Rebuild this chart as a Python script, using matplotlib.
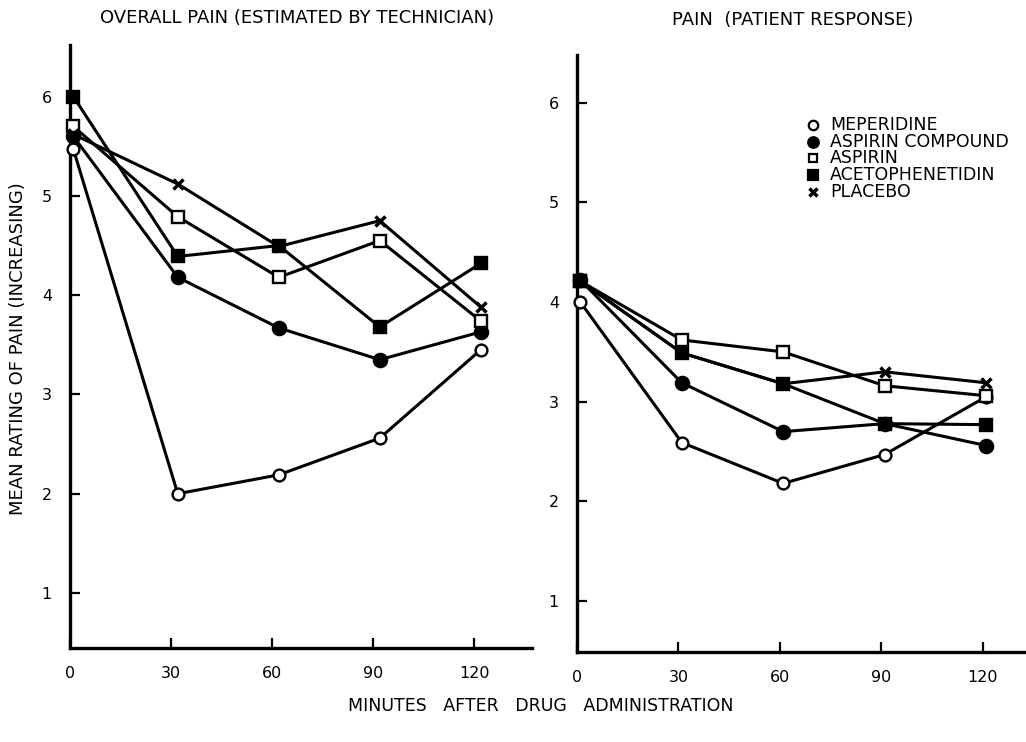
import matplotlib
matplotlib.use("Agg")
import matplotlib.pyplot as plt
from matplotlib.lines import Line2D

# ---------------- data ----------------
drugs = ["MEPERIDINE", "ASPIRIN COMPOUND", "ASPIRIN", "ACETOPHENETIDIN", "PLACEBO"]
x_ticks = [0, 30, 60, 90, 120]
x_ticklabels = ["0", "30", "60", "90", "120"]
y_ticks = [1, 2, 3, 4, 5, 6]

# left panel: overall pain (estimated by technician)
t_left = [1, 32, 62, 92, 122]
left_meperidine = [5.47, 2.00, 2.19, 2.56, 3.45]
left_asp_comp = [5.60, 4.18, 3.67, 3.35, 3.63]
left_aspirin = [5.70, 4.79, 4.18, 4.55, 3.74]
left_aceto = [6.00, 4.39, 4.50, 3.68, 4.32]
left_placebo = [5.62, 5.12, 4.49, 4.75, 3.88]

# right panel: pain (patient response)
t_right = [1, 31, 61, 91, 121]
right_meperidine = [4.00, 2.59, 2.18, 2.47, 3.05]
right_asp_comp = [4.22, 3.19, 2.70, 2.78, 2.56]
right_aspirin = [4.21, 3.62, 3.50, 3.16, 3.06]
right_aceto = [4.21, 3.49, 3.18, 2.78, 2.77]
right_placebo = [4.21, 3.49, 3.18, 3.30, 3.19]

left_series = [left_meperidine, left_asp_comp, left_aspirin, left_aceto, left_placebo]
right_series = [right_meperidine, right_asp_comp, right_aspirin, right_aceto, right_placebo]

styles = [
    dict(marker="o", mfc="white", ms=8.5),
    dict(marker="o", mfc="black", ms=9.5),
    dict(marker="s", mfc="white", ms=8),
    dict(marker="s", mfc="black", ms=9),
    dict(marker="x", mfc="black", ms=7, mew=2.5),
]

plt.rcParams["font.family"] = ["DejaVu Sans"]

fig = plt.figure(figsize=(10.26, 7.42), dpi=100)
axL = fig.add_axes([70 / 1026, 1 - 648 / 742, (532 - 70) / 1026, (648 - 45) / 742])
axR = fig.add_axes([577 / 1026, 1 - 652 / 742, (1025 - 577) / 1026, (652 - 55) / 742])


def draw(ax, t, series, ylim, xmax):
    for vals, st in zip(series, styles):
        kw = dict(color="black", lw=2.2, mec="black", mew=1.7)
        kw.update(st)
        ax.plot(t, vals, **kw, zorder=3, clip_on=False)
    ax.set_xlim(0, xmax)
    ax.set_ylim(*ylim)
    for s in ["top", "right"]:
        ax.spines[s].set_visible(False)
    for s in ["left", "bottom"]:
        ax.spines[s].set_linewidth(2.4)
    ax.set_xticks(x_ticks)
    ax.set_xticklabels(x_ticklabels)
    ax.set_yticks(y_ticks)
    ax.set_yticklabels([str(v) for v in y_ticks])
    ax.tick_params(axis="both", direction="in", length=7, width=1.6, labelsize=11.5)
    ax.tick_params(axis="x", pad=13)
    ax.tick_params(axis="y", pad=13)


draw(axL, t_left, left_series, (0.446, 6.52), 137.2)
draw(axR, t_right, right_series, (0.488, 6.48), 132.5)

fig.text(297 / 1026, 1 - 18 / 742, "OVERALL PAIN (ESTIMATED BY TECHNICIAN)",
         ha="center", va="center", fontsize=13)
fig.text(793 / 1026, 1 - 20 / 742, "PAIN  (PATIENT RESPONSE)",
         ha="center", va="center", fontsize=13)
fig.text(18 / 1026, 1 - 349 / 742, "MEAN RATING OF PAIN (INCREASING)",
         ha="center", va="center", rotation=90, fontsize=13)
fig.text(541 / 1026, 1 - 706 / 742, "MINUTES   AFTER   DRUG   ADMINISTRATION",
         ha="center", va="center", fontsize=12.5)

# manual legend
leg_rows_y = [125, 142, 158, 175, 192]
for name, st, yy in zip(drugs, styles, leg_rows_y):
    kw = dict(color="black", lw=0, mec="black", mew=1.6)
    kw.update(st)
    kw["ms"] = kw["ms"] * 0.8
    fig.add_artist(Line2D([813 / 1026], [1 - yy / 742], transform=fig.transFigure, **kw))
    fig.text(830 / 1026, 1 - yy / 742, name, ha="left", va="center", fontsize=12.5)

fig.savefig("out.png", dpi=100, facecolor="white")
